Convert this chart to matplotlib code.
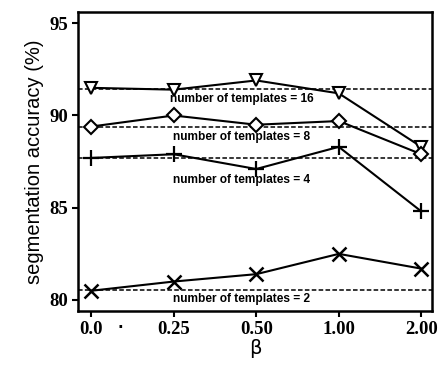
import matplotlib.pyplot as plt
import numpy as np

beta_labels = ["0.0", "0.25", "0.50", "1.00", "2.00"]

acc_16 = [91.5, 91.4, 91.9, 91.2, 88.3]
acc_8 = [89.4, 90.0, 89.5, 89.7, 87.9]
acc_4 = [87.7, 87.9, 87.1, 88.3, 84.8]
acc_2 = [80.5, 81.0, 81.4, 82.5, 81.7]

# baselines (dashed)
base_16 = 91.45
base_8 = 89.35
base_4 = 87.7
base_2 = 80.55

fig = plt.figure(figsize=(4.4, 3.69), dpi=100)
ax = fig.add_axes([0.177, 0.157, 0.805, 0.81])

x = np.arange(len(beta_labels))

for base in [base_16, base_8, base_4, base_2]:
    ax.axhline(base, color='black', lw=1.1, ls=(0, (3, 1.5)), zorder=1)

ax.plot(x, acc_16, color='black', lw=1.5, marker='v', ms=9, mfc='white', mec='black', mew=1.5, zorder=3)
ax.plot(x, acc_8, color='black', lw=1.5, marker='D', ms=7, mfc='white', mec='black', mew=1.5, zorder=3)
ax.plot(x, acc_4, color='black', lw=1.5, marker='+', ms=12, mew=1.6, zorder=3)
ax.plot(x, acc_2, color='black', lw=1.5, marker='x', ms=10, mew=1.8, zorder=3)

lab_font = dict(family='Liberation Sans', fontsize=8.6, fontweight='bold', ha='center', va='center')
ax.text(1.82, 90.9, "number of templates = 16", **lab_font)
ax.text(1.82, 88.85, "number of templates = 8", **lab_font)
ax.text(1.82, 86.5, "number of templates = 4", **lab_font)
ax.text(1.82, 80.05, "number of templates = 2", **lab_font)

ax.set_xlim(-0.16, 4.13)
ax.set_ylim(79.4, 95.6)
ax.set_xticks(x)
ax.set_xticklabels(beta_labels, family='Liberation Serif', fontsize=13.5, fontweight='bold')
ax.set_yticks([80, 85, 90, 95])
ax.set_yticklabels(["80", "85", "90", "95"], family='Liberation Serif', fontsize=13.5, fontweight='bold')
ax.tick_params(direction='out', length=4, width=1.5, pad=3)

for s in ax.spines.values():
    s.set_linewidth(1.8)

ax.set_ylabel("segmentation accuracy (%)", family='Liberation Sans', fontsize=14.5, labelpad=4)
ax.set_xlabel("β", family='DejaVu Sans', fontsize=14, labelpad=1)

# stray dot from the scan
fig.text(0.268, 0.11, ".", fontsize=11, fontweight='bold')

fig.savefig("out.png", dpi=100)
